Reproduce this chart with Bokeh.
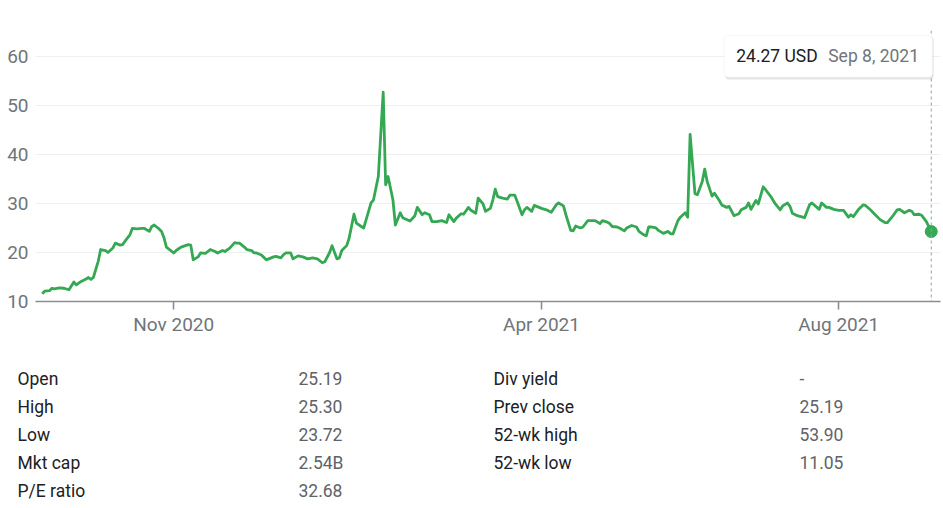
import pandas as pd
from bokeh.plotting import figure
from bokeh.models import (Range1d, FixedTicker, DatetimeTickFormatter, Span,
                          BoxAnnotation, Label, ColumnDataSource)
from bokeh.layouts import column
from bokeh.core.properties import value
from bokeh.embed import file_html
from bokeh.resources import INLINE

# ---------------- data ----------------
START = "2020-09-08"
day_offsets = [
    0, 1, 3, 4, 5, 7, 9, 11, 13, 14, 16, 18, 19, 20, 21, 23, 24, 26, 27, 29,
    30, 32, 33, 34, 36, 37, 39, 41, 42, 44, 45, 46, 47, 48, 49, 50, 51, 54, 55, 57,
    60, 61, 62, 64, 65, 67, 68, 69, 71, 72, 74, 75, 77, 79, 80, 81, 83, 84, 86, 87,
    88, 90, 92, 93, 95, 96, 98, 99, 100, 102, 103, 105, 107, 109, 111, 113, 115, 116, 118, 119,
    121, 122, 123, 125, 126, 128, 129, 131, 132, 133, 135, 136, 138, 140, 141, 142, 144, 145, 147, 148,
    151, 153, 154, 156, 157, 159, 160, 162, 164, 166, 167, 169, 170, 172, 173, 175, 176, 178, 179, 181,
    182, 184, 185, 186, 187, 189, 191, 192, 194, 195, 197, 198, 199, 201, 202, 204, 205, 207, 209, 211,
    212, 214, 215, 217, 218, 219, 221, 222, 224, 226, 227, 229, 230, 232, 233, 234, 236, 237, 239, 240,
    242, 244, 245, 247, 248, 249, 250, 252, 253, 255, 257, 258, 259, 261, 262, 264, 265, 266, 268, 269,
    271, 272, 273, 275, 276, 278, 279, 281, 282, 284, 286, 287, 289, 290, 291, 293, 294, 296, 297, 299,
    301, 303, 304, 306, 307, 308, 310, 313, 315, 316, 319, 320, 322, 323, 325, 327, 329, 331, 332, 333,
    335, 337, 338, 340, 342, 344, 346, 347, 349, 351, 352, 354, 356, 357, 358, 360, 361, 363, 365,
]
prices = [
    11.6, 12.1, 12.2, 12.7, 12.6, 12.8, 12.7, 12.4, 14.0, 13.4, 14.1, 14.6, 14.9, 14.5, 14.9, 18.2, 20.6, 20.4, 20.0, 20.9,
    21.9, 21.5, 21.6, 22.3, 23.6, 24.9, 24.8, 24.9, 24.9, 24.3, 25.3, 25.6, 25.2, 24.8, 24.3, 23.0, 21.1, 19.9, 20.4, 21.1,
    21.6, 21.5, 18.5, 19.1, 19.9, 19.8, 20.2, 20.6, 20.2, 19.9, 20.4, 20.2, 20.9, 22.0, 21.9, 21.9, 21.1, 20.6, 20.4, 19.9,
    19.9, 19.5, 18.5, 18.7, 19.1, 19.2, 18.9, 19.5, 19.9, 19.9, 18.7, 19.3, 19.1, 18.7, 18.9, 18.7, 17.9, 18.1, 20.0, 21.4,
    18.7, 18.9, 20.4, 21.4, 22.9, 27.8, 26.0, 25.3, 25.0, 26.7, 30.1, 30.7, 35.5, 52.7, 33.8, 35.5, 30.7, 25.6, 28.1, 27.1,
    26.4, 27.5, 29.2, 27.7, 28.1, 27.7, 26.3, 26.3, 26.5, 26.1, 27.7, 26.3, 27.0, 27.9, 27.8, 29.2, 28.6, 28.0, 31.1, 29.9,
    28.4, 29.0, 30.7, 32.9, 31.4, 31.1, 30.9, 31.7, 31.7, 30.4, 27.7, 28.7, 29.2, 28.4, 29.6, 29.2, 29.0, 28.7, 28.2, 29.7,
    30.1, 29.5, 27.7, 24.5, 24.4, 25.4, 25.0, 25.2, 26.5, 26.5, 26.5, 25.9, 26.5, 26.2, 25.9, 25.3, 25.2, 25.0, 24.4, 25.0,
    25.5, 25.2, 24.3, 23.6, 23.4, 25.2, 25.2, 25.0, 24.5, 23.9, 24.3, 23.8, 23.8, 26.5, 27.2, 28.1, 27.2, 44.1, 32.0, 31.8,
    34.5, 37.0, 34.5, 31.5, 32.1, 30.6, 29.7, 29.2, 29.4, 27.5, 27.9, 28.7, 29.2, 30.1, 28.8, 30.6, 29.9, 33.4, 32.8, 31.5,
    29.9, 28.7, 29.5, 30.1, 29.4, 28.0, 27.5, 27.1, 29.7, 30.1, 28.8, 30.1, 29.2, 29.2, 28.8, 28.6, 28.6, 27.2, 27.7, 27.3,
    28.7, 29.7, 29.6, 28.7, 27.7, 26.7, 26.1, 26.1, 27.3, 28.7, 28.8, 28.1, 28.6, 28.4, 27.7, 27.8, 27.6, 26.3, 24.27,
]
y_ticks = [10, 20, 30, 40, 50, 60]
x_tick_dates = ["2020-11-01", "2021-04-01", "2021-08-01"]
currency = "USD"

left_labels = ["Open", "High", "Low", "Mkt cap", "P/E ratio"]
left_values = ["25.19", "25.30", "23.72", "2.54B", "32.68"]
right_labels = ["Div yield", "Prev close", "52-wk high", "52-wk low"]
right_values = ["-", "25.19", "53.90", "11.05"]

# ---------------- layout constants (page pixels) ----------------
W = 943
FRAME_L, FRAME_R = 35, 940
CH = 338            # chart figure height
FRAME_T, FRAME_B = 30, 302
TH = 170            # table figure height

# ---------------- chart ----------------
dates = pd.Timestamp(START) + pd.to_timedelta(day_offsets, unit="D")
first, last = dates[0], dates[-1]
DAY = pd.Timedelta(days=1)

FONT = "Roboto"
GREEN = "#34a853"
GRAY_TXT = "#70757a"

p = figure(width=W, height=CH, x_axis_type="datetime",
           output_backend="svg", toolbar_location=None,
           x_range=Range1d(first - 2.75 * DAY, last + 3.8 * DAY),
           y_range=Range1d(10, 65.28),
           min_border_left=FRAME_L, min_border_right=W - FRAME_R,
           min_border_top=FRAME_T, min_border_bottom=CH - FRAME_B)
p.frame_align = False
p.outline_line_color = None
p.background_fill_color = "white"
p.border_fill_color = "white"
p.xgrid.grid_line_color = None
p.ygrid.grid_line_color = "#eeeff1"
p.ygrid.grid_line_width = 1

p.yaxis.ticker = FixedTicker(ticks=y_ticks)
p.yaxis.axis_line_color = None
p.yaxis.major_tick_line_color = None
p.yaxis.minor_tick_line_color = None
p.yaxis.major_label_text_color = GRAY_TXT
p.yaxis.major_label_text_font = FONT
p.yaxis.major_label_text_font_size = "19px"
p.yaxis.major_label_standoff = 1

tick_ms = [pd.Timestamp(d).value // 10**6 for d in x_tick_dates]
p.xaxis.ticker = FixedTicker(ticks=tick_ms)
fmt = "%b %Y"
p.xaxis.formatter = DatetimeTickFormatter(
    milliseconds=fmt, seconds=fmt, minsec=fmt, minutes=fmt, hourmin=fmt,
    hours=fmt, days=fmt, months=fmt, years=fmt)
p.xaxis.axis_line_color = "#8a8e93"
p.xaxis.axis_line_width = 1.6
p.xaxis.major_tick_line_color = "#8a8e93"
p.xaxis.major_tick_line_width = 1.6
p.xaxis.major_tick_out = 8
p.xaxis.major_tick_in = 0
p.xaxis.minor_tick_line_color = None
p.xaxis.major_label_text_color = GRAY_TXT
p.xaxis.major_label_text_font = FONT
p.xaxis.major_label_text_font_size = "19px"
p.xaxis.major_label_standoff = 3

p.line(dates, prices, line_color=GREEN, line_width=2.8, line_join="round")
p.scatter([last], [prices[-1]], size=12, color=GREEN)

span = Span(location=last.value // 10**6, dimension="height",
            line_color="#9aa0a6", line_width=1, line_dash="3 3")
p.add_layout(span)

# tooltip box anchored at the last point
box_left = last - 85 * DAY
box_right = last + 0.5 * DAY
box_top, box_bottom = 64.27, 55.73
shadow = BoxAnnotation(left=box_left + 0.3 * DAY, right=box_right + 0.5 * DAY,
                       top=box_top - 0.25, bottom=box_bottom - 0.45,
                       fill_color="#000000", fill_alpha=0.10, line_color=None,
                       border_radius=4)
box = BoxAnnotation(left=box_left, right=box_right, top=box_top, bottom=box_bottom,
                    fill_color="white", fill_alpha=1.0, line_color="#e3e4e6",
                    line_width=1, border_radius=4)
p.add_layout(shadow)
p.add_layout(box)
mid = (box_top + box_bottom) / 2
price_lbl = Label(x=box_left, y=mid, x_offset=12, text=f"{prices[-1]:.2f} {currency}",
                  text_font=FONT, text_font_size="17.5px", text_color="#202124",
                  text_baseline="middle")
date_lbl = Label(x=box_left, y=mid, x_offset=104,
                 text=f"{last.strftime('%b')} {last.day}, {last.year}",
                 text_font=FONT, text_font_size="17.5px", text_color=GRAY_TXT,
                 text_baseline="middle")
p.add_layout(price_lbl)
p.add_layout(date_lbl)

# ---------------- stats table (coordinates = page pixels) ----------------
t = figure(width=W, height=TH, output_backend="svg", toolbar_location=None,
           x_range=Range1d(0, W), y_range=Range1d(CH + TH, CH),
           min_border_left=0, min_border_right=0,
           min_border_top=0, min_border_bottom=0)
t.frame_align = False
t.axis.visible = False
t.grid.visible = False
t.outline_line_color = None

row_y0, row_dy = 378, 28
ly = [row_y0 + i * row_dy for i in range(len(left_labels))]
ry = [row_y0 + i * row_dy for i in range(len(right_labels))]
src_l = ColumnDataSource(dict(y=ly, lab=left_labels, val=left_values))
src_r = ColumnDataSource(dict(y=ry, lab=right_labels, val=right_values))
common = dict(text_font=value(FONT), text_font_size="17.5px", text_baseline="middle")
t.text(x=17, y="y", text="lab", source=src_l, text_color="#202124", **common)
t.text(x=298, y="y", text="val", source=src_l, text_color="#5f6368", **common)
t.text(x=493, y="y", text="lab", source=src_r, text_color="#202124", **common)
t.text(x=799, y="y", text="val", source=src_r, text_color="#5f6368", **common)

layout = column(p, t, spacing=0)
open("out.html", "w").write(file_html(layout, INLINE))
